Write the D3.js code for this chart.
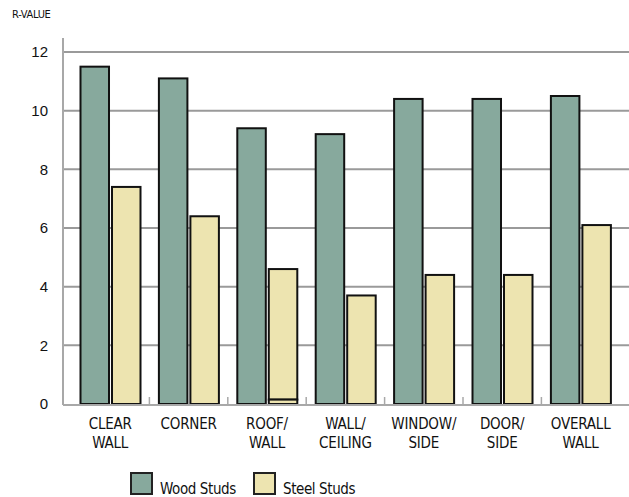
<!DOCTYPE html>
<html>
<head>
<meta charset="utf-8">
<script src="https://cdn.jsdelivr.net/npm/d3@7"></script>
<style>
  body { margin: 0; background: #fff; }
  svg { display: block; }
  .cond { font-family: "Liberation Sans Narrow", "DejaVu Sans Condensed", "Liberation Sans", sans-serif; }
</style>
</head>
<body>
<div id="chart"></div>
<script>
// chart data
var categories = [["CLEAR", "WALL"], ["CORNER"], ["ROOF/", "WALL"], ["WALL/", "CEILING"],
                  ["WINDOW/", "SIDE"], ["DOOR/", "SIDE"], ["OVERALL", "WALL"]];
var woodStuds = [11.5, 11.1, 9.4, 9.2, 10.4, 10.4, 10.5];
var steelStuds = [7.4, 6.4, 4.6, 3.7, 4.4, 4.4, 6.1];
// small base piece drawn inside the steel bar (only roof/wall has one)
var steelBase = [0, 0, 0.15, 0, 0, 0, 0];
var yTicks = [0, 2, 4, 6, 8, 10, 12];
var seriesNames = ["Wood Studs", "Steel Studs"];
var seriesColors = ["#87a99d", "#ede4b0"];

var svgWidth = 629, svgHeight = 497;

var svg = d3.select("#chart")
    .append("svg")
    .attr("width", svgWidth)
    .attr("height", svgHeight);

// scales
var xScale = d3.scaleBand()
    .domain(d3.range(categories.length))
    .range([71, 71 + 78.4 * categories.length])
    .padding(0);

var xInner = d3.scaleBand()
    .domain([0, 1])
    .range([9.5, 69.5])
    .paddingInner(0.095);

var yScale = d3.scaleLinear()
    .domain([0, 12])
    .range([404, 52]);

// gridlines
svg.append("g")
    .selectAll("line")
    .data(yTicks.filter(d => d > 0))
    .enter()
    .append("line")
        .attr("x1", 63)
        .attr("x2", svgWidth)
        .attr("y1", d => yScale(d))
        .attr("y2", d => yScale(d))
        .attr("stroke", "#9a9a9a")
        .attr("stroke-width", 2);

// y axis line
svg.append("line")
    .attr("x1", 63).attr("x2", 63)
    .attr("y1", 38).attr("y2", 405)
    .attr("stroke", "#a8a8a8")
    .attr("stroke-width", 2);

// y tick labels
svg.append("g")
    .selectAll("text")
    .data(yTicks)
    .enter()
    .append("text")
        .attr("x", 48)
        .attr("y", d => yScale(d))
        .attr("dy", "0.35em")
        .attr("text-anchor", "end")
        .style("font-family", "'Liberation Sans', Arial, sans-serif")
        .style("font-size", "15px")
        .attr("fill", "#111")
        .text(d => d);

// bars
var groups = svg.append("g")
    .selectAll("g")
    .data(categories)
    .enter()
    .append("g")
        .attr("transform", (d, i) => `translate(${xScale(i)},0)`);

groups.append("rect")
    .attr("x", xInner(0))
    .attr("y", (d, i) => yScale(woodStuds[i]))
    .attr("width", xInner.bandwidth())
    .attr("height", (d, i) => yScale(0) - yScale(woodStuds[i]))
    .attr("fill", seriesColors[0])
    .attr("stroke", "#111")
    .attr("stroke-width", 2);

groups.append("rect")
    .attr("x", xInner(1))
    .attr("y", (d, i) => yScale(steelStuds[i]))
    .attr("width", xInner.bandwidth())
    .attr("height", (d, i) => yScale(steelBase[i]) - yScale(steelStuds[i]))
    .attr("fill", seriesColors[1])
    .attr("stroke", "#111")
    .attr("stroke-width", 2);

groups.filter((d, i) => steelBase[i] > 0)
    .append("rect")
    .attr("x", xInner(1))
    .attr("y", d => yScale(steelBase[categories.indexOf(d)]))
    .attr("width", xInner.bandwidth())
    .attr("height", d => yScale(0) - yScale(steelBase[categories.indexOf(d)]))
    .attr("fill", seriesColors[1])
    .attr("stroke", "#111")
    .attr("stroke-width", 2);

// baseline
svg.append("line")
    .attr("x1", 63).attr("x2", svgWidth)
    .attr("y1", 405).attr("y2", 405)
    .attr("stroke", "#a8a8a8")
    .attr("stroke-width", 2);

// separator ticks between categories
svg.append("g")
    .selectAll("line")
    .data(d3.range(1, categories.length))
    .enter()
    .append("line")
        .attr("x1", d => xScale(d))
        .attr("x2", d => xScale(d))
        .attr("y1", 404)
        .attr("y2", 397)
        .attr("stroke", "#a8a8a8")
        .attr("stroke-width", 1.5);

// category labels
var labels = svg.append("g")
    .selectAll("text")
    .data(categories)
    .enter()
    .append("text")
        .attr("class", "cond")
        .attr("x", (d, i) => xScale(i) + xScale.bandwidth() / 2)
        .attr("y", 429)
        .attr("text-anchor", "middle")
        .style("font-size", "15px")
        .style("letter-spacing", "-0.2px")
        .attr("fill", "#111");

labels.selectAll("tspan")
    .data(d => d)
    .enter()
    .append("tspan")
        .attr("x", function() { return this.parentNode.getAttribute("x"); })
        .attr("dy", (d, i) => i === 0 ? 0 : 19)
        .text(d => d);

// axis title
svg.append("text")
    .attr("class", "cond")
    .attr("x", 12)
    .attr("y", 18)
    .style("font-size", "11px")
    .style("letter-spacing", "-0.3px")
    .attr("fill", "#111")
    .text("R-VALUE");

// legend
var legendX = [131, 254];
var legend = svg.append("g")
    .selectAll("g")
    .data(seriesNames)
    .enter()
    .append("g")
        .attr("transform", (d, i) => `translate(${legendX[i]},473)`);

legend.append("rect")
    .attr("width", 21)
    .attr("height", 21)
    .attr("fill", (d, i) => seriesColors[i])
    .attr("stroke", "#222")
    .attr("stroke-width", 2);

legend.append("text")
    .attr("class", "cond")
    .attr("x", 29)
    .attr("y", 21)
    .style("font-size", "15px")
    .style("letter-spacing", "-0.4px")
    .attr("fill", "#111")
    .text(d => d);
</script>
</body>
</html>
